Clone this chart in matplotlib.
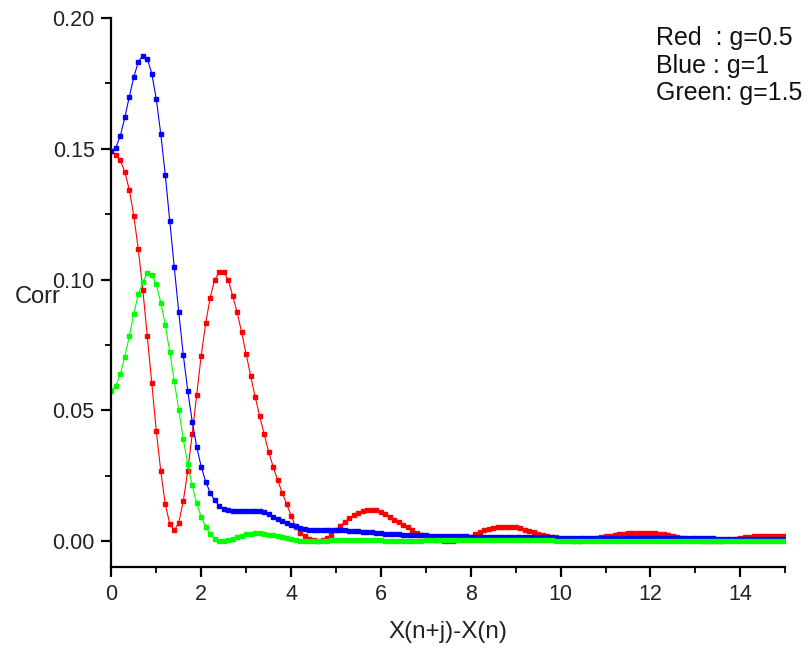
import numpy as np
import matplotlib
matplotlib.use("Agg")
import matplotlib.pyplot as plt
from matplotlib.ticker import MultipleLocator

plt.rcParams["font.family"] = ["Liberation Sans", "DejaVu Sans"]

# x grid: one sample every 0.1 from 0 to 15
x = np.round(np.arange(151) * 0.1, 1)

# Red : g=0.5
red = [0.1490, 0.1478, 0.1456, 0.1411, 0.1343, 0.1243, 0.1115, 0.0961, 0.0784, 0.0603,
       0.0421, 0.0266, 0.0141, 0.0065, 0.0041, 0.0069, 0.0151, 0.0268, 0.0409, 0.0559,
       0.0709, 0.0833, 0.0931, 0.0999, 0.1028, 0.1028, 0.0999, 0.0938, 0.0874, 0.0798,
       0.0714, 0.0632, 0.0552, 0.0478, 0.0409, 0.0341, 0.0284, 0.0233, 0.0185, 0.0141,
       0.0096, 0.0054, 0.0032, 0.0018, 0.0008, 0.0003, 0.0001, 0.0003, 0.0010, 0.0022,
       0.0040, 0.0058, 0.0074, 0.0086, 0.0098, 0.0108, 0.0114, 0.0118, 0.0119, 0.0118,
       0.0111, 0.0101, 0.0091, 0.0081, 0.0072, 0.0062, 0.0052, 0.0040, 0.0030, 0.0021,
       0.0015, 0.0010, 0.0005, 0.0002, 0.0000, 0.0000, 0.0001, 0.0003, 0.0006, 0.0010,
       0.0016, 0.0025, 0.0033, 0.0040, 0.0046, 0.0050, 0.0052, 0.0054, 0.0054, 0.0054,
       0.0052, 0.0048, 0.0043, 0.0038, 0.0033, 0.0028, 0.0024, 0.0020, 0.0016, 0.0013,
       0.0009, 0.0005, 0.0002, 0.0000, 0.0000, 0.0002, 0.0005, 0.0008, 0.0011, 0.0014,
       0.0017, 0.0020, 0.0023, 0.0025, 0.0027, 0.0029, 0.0030, 0.0031, 0.0031, 0.0031,
       0.0030, 0.0029, 0.0027, 0.0025, 0.0022, 0.0019, 0.0016, 0.0012, 0.0009, 0.0006,
       0.0004, 0.0002, 0.0001, 0.0000, 0.0000, 0.0000, 0.0001, 0.0002, 0.0004, 0.0007,
       0.0011, 0.0014, 0.0016, 0.0018, 0.0019, 0.0019, 0.0019, 0.0019, 0.0019, 0.0019,
       0.0019]

# Blue : g=1
blue = [0.1490, 0.1505, 0.1550, 0.1620, 0.1700, 0.1775, 0.1833, 0.1857, 0.1844, 0.1788,
        0.1690, 0.1557, 0.1400, 0.1222, 0.1047, 0.0875, 0.0713, 0.0575, 0.0456, 0.0359,
        0.0284, 0.0226, 0.0184, 0.0155, 0.0135, 0.0122, 0.0117, 0.0116, 0.0116, 0.0116,
        0.0116, 0.0116, 0.0115, 0.0113, 0.0109, 0.0102, 0.0093, 0.0085, 0.0077, 0.0069,
        0.0061, 0.0055, 0.0050, 0.0046, 0.0043, 0.0041, 0.0041, 0.0041, 0.0041, 0.0041,
        0.0041, 0.0040, 0.0040, 0.0039, 0.0038, 0.0036, 0.0035, 0.0034, 0.0033, 0.0031,
        0.0029, 0.0027, 0.0026, 0.0025, 0.0025, 0.0024, 0.0023, 0.0022, 0.0021, 0.0021,
        0.0021, 0.0020, 0.0020, 0.0020, 0.0019, 0.0019, 0.0019, 0.0018, 0.0018, 0.0017,
        0.0016, 0.0015, 0.0015, 0.0015, 0.0015, 0.0015, 0.0015, 0.0015, 0.0014, 0.0014,
        0.0014, 0.0014, 0.0014, 0.0014, 0.0014, 0.0013, 0.0013, 0.0013, 0.0013, 0.0012,
        0.0011, 0.0011, 0.0011, 0.0011, 0.0011, 0.0011, 0.0011, 0.0011, 0.0011, 0.0011,
        0.0011, 0.0011, 0.0011, 0.0011, 0.0011, 0.0011, 0.0011, 0.0011, 0.0011, 0.0011,
        0.0010, 0.0010, 0.0010, 0.0010, 0.0010, 0.0010, 0.0010, 0.0010, 0.0010, 0.0010,
        0.0010, 0.0010, 0.0010, 0.0010, 0.0010, 0.0009, 0.0009, 0.0009, 0.0009, 0.0009,
        0.0009, 0.0009, 0.0009, 0.0009, 0.0009, 0.0009, 0.0009, 0.0009, 0.0009, 0.0009,
        0.0009]

# Green: g=1.5
green = [0.0575, 0.0594, 0.0638, 0.0704, 0.0784, 0.0869, 0.0943, 0.0991, 0.1024, 0.1019,
         0.0981, 0.0912, 0.0826, 0.0723, 0.0612, 0.0501, 0.0390, 0.0294, 0.0212, 0.0143,
         0.0092, 0.0054, 0.0027, 0.0009, 0.0001, 0.0000, 0.0002, 0.0008, 0.0013, 0.0019,
         0.0025, 0.0028, 0.0031, 0.0031, 0.0028, 0.0024, 0.0022, 0.0019, 0.0015, 0.0012,
         0.0008, 0.0004, 0.0001, 0.0000, 0.0000, 0.0000, 0.0000, 0.0000, 0.0000, 0.0003,
         0.0003, 0.0003, 0.0003, 0.0003, 0.0003, 0.0003, 0.0003, 0.0003, 0.0003, 0.0003,
         0.0003, 0.0001, 0.0001, 0.0001, 0.0001, 0.0001, 0.0001, 0.0001, 0.0001, 0.0001,
         0.0003, 0.0003, 0.0003, 0.0003, 0.0003, 0.0003, 0.0003, 0.0003, 0.0003, 0.0003,
         0.0003, 0.0003, 0.0003, 0.0003, 0.0003, 0.0003, 0.0003, 0.0003, 0.0003, 0.0003,
         0.0003, 0.0003, 0.0003, 0.0003, 0.0003, 0.0003, 0.0003, 0.0003, 0.0003, 0.0001,
         0.0001, 0.0001, 0.0001, 0.0001, 0.0001, 0.0001, 0.0001, 0.0001, 0.0001, 0.0001,
         0.0001, 0.0001, 0.0001, 0.0001, 0.0001, 0.0001, 0.0001, 0.0001, 0.0001, 0.0001,
         0.0001, 0.0001, 0.0001, 0.0001, 0.0001, 0.0001, 0.0001, 0.0001, 0.0001, 0.0001,
         0.0001, 0.0001, 0.0001, 0.0001, 0.0001, 0.0001, 0.0001, 0.0001, 0.0001, 0.0001,
         0.0001, 0.0001, 0.0001, 0.0001, 0.0001, 0.0001, 0.0001, 0.0001, 0.0001, 0.0001,
         0.0001]

legend_lines = ["Red  : g=0.5", "Blue : g=1", "Green: g=1.5"]

fig = plt.figure(figsize=(8.07, 6.48), dpi=100)
ax = fig.add_axes([0.138, 0.125, 0.835, 0.847])

# one line + small square markers per series
for ys, col in [(red, "#ff0000"), (blue, "#0000ff"), (green, "#00ff00")]:
    ax.plot(x, ys, color=col, lw=0.8, marker="s", ms=2.2, mec=col, mfc=col)

ax.set_xlim(0, 15)
ax.set_ylim(-0.01, 0.20)

# only left/bottom frame, ticks outward
ax.spines["top"].set_visible(False)
ax.spines["right"].set_visible(False)
for s in ["left", "bottom"]:
    ax.spines[s].set_linewidth(1.6)

ax.xaxis.set_major_locator(MultipleLocator(2))
ax.xaxis.set_minor_locator(MultipleLocator(1))
ax.yaxis.set_major_locator(MultipleLocator(0.05))
ax.yaxis.set_minor_locator(MultipleLocator(0.025))
ax.yaxis.set_major_formatter(plt.FormatStrFormatter("%.2f"))
ax.tick_params(which="major", direction="out", length=7, width=1.6,
               labelsize=15.5, labelcolor="#222222", pad=5)
ax.tick_params(which="minor", direction="out", length=4, width=1.3)

ax.set_xlabel("X(n+j)-X(n)", fontsize=17.5, color="#222222", labelpad=12)
ax.set_ylabel("Corr", fontsize=17, color="#222222", rotation=0,
              ha="center", va="center")
ax.yaxis.set_label_coords(-0.11, 0.492)

# text "legend" in the upper right corner
for i, t in enumerate(legend_lines):
    fig.text(656 / 807, 1 - (38 + i * 27.5) / 648, t, fontsize=18,
             color="#111111", va="center", ha="left")

fig.savefig("out.png", dpi=100)
